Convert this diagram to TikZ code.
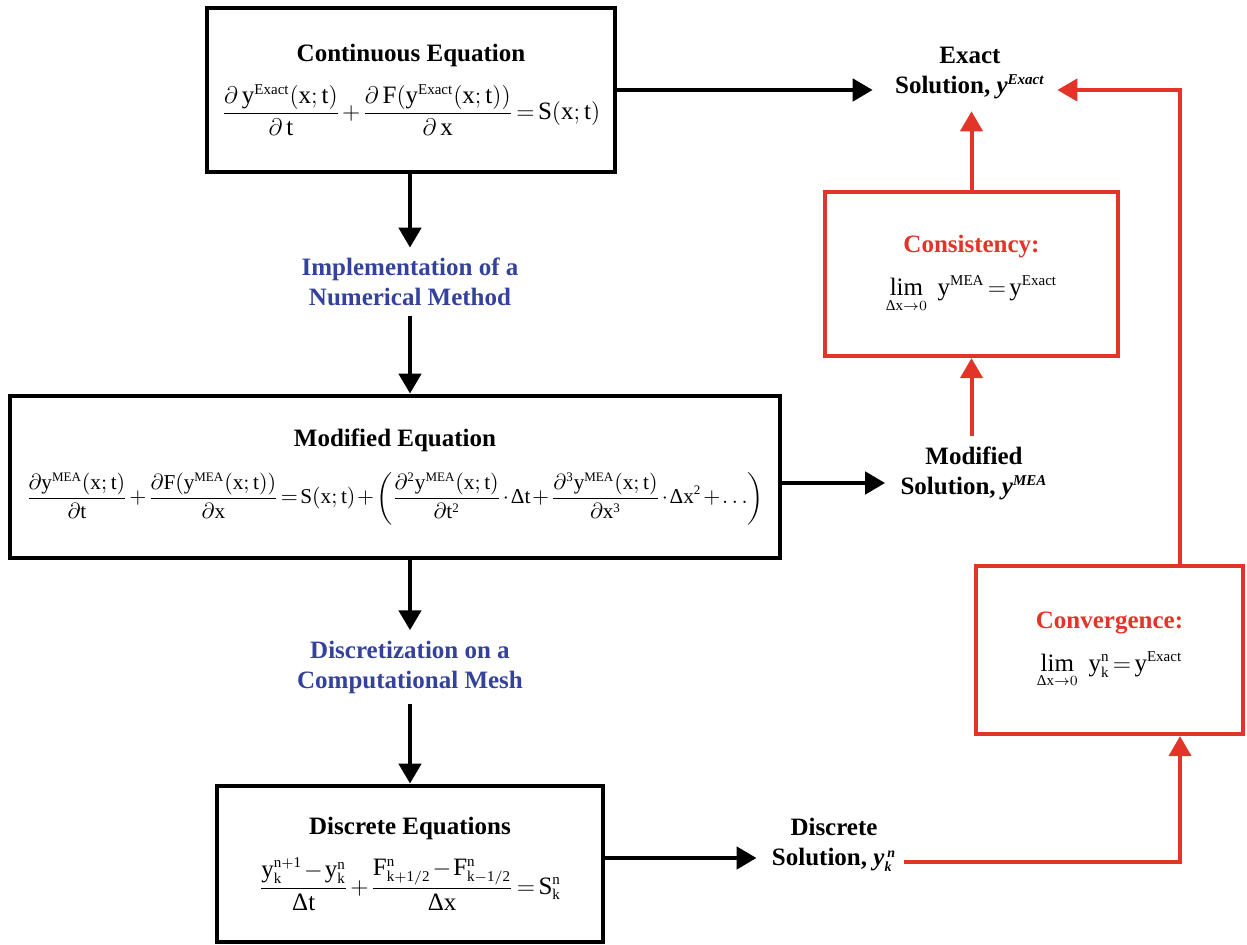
\documentclass[tikz,border=0pt]{standalone}
\usepackage{amsmath}
\usepackage{fontspec}
\setmainfont{Liberation Serif}
\usetikzlibrary{arrows.meta,calc}
\definecolor{myred}{RGB}{226,52,40}
\definecolor{myblue}{RGB}{52,66,156}
\DeclareMathSizes{12.5}{12.5}{7.5}{6}
\DeclareMathSizes{10.6}{10.6}{6.5}{5}
\newcommand{\hdfont}{\fontsize{12.5}{15}\selectfont\bfseries}
\newcommand{\eqfont}{\fontsize{12.5}{15}\selectfont\medmuskip=1.5mu\thickmuskip=2.5mu}
\newcommand{\meqfont}{\fontsize{10.6}{13}\selectfont\medmuskip=1.5mu\thickmuskip=2mu}
\newcommand{\Dl}{\text{Δ}}
\begin{document}
\begin{tikzpicture}[x=0.5pt,y=-0.5pt,
  bbox/.style={draw=black,line width=2.4pt,fill=white,align=center,inner sep=0pt},
  rbox/.style={draw=myred,line width=2.1pt,fill=white,align=center,inner sep=0pt},
  lbl/.style={align=center,font=\hdfont,inner sep=0pt},
  blbl/.style={align=center,font=\hdfont,text=myblue,inner sep=0pt},
  blk/.style={draw=black,line width=2.3pt,-{Triangle[length=10pt,width=11pt]}},
  red/.style={draw=myred,line width=2pt,-{Triangle[length=10pt,width=11pt]}}]
\useasboundingbox (0,0) rectangle (1247,945);

% boxes
\node[bbox,minimum width=204pt,minimum height=82pt] (cont) at (411,90)
 {{\hdfont Continuous Equation}\\[8pt]
  \eqfont$\displaystyle \frac{\mathrm{\partial\, y^{Exact}(x;t)}}{\mathrm{\partial\, t}}+\frac{\mathrm{\partial\, F(y^{Exact}(x;t))}}{\mathrm{\partial\, x}}=\mathrm{S(x;t)}$};

\node[bbox,minimum width=385pt,minimum height=81pt] (mod) at (395,477)
 {{\hdfont Modified Equation}\\[9pt]
  \meqfont$\displaystyle \frac{\mathrm{\partial y^{MEA}(x;t)}}{\mathrm{\partial t}}+\frac{\mathrm{\partial F(y^{MEA}(x;t))}}{\mathrm{\partial x}}=\mathrm{S(x;t)}+\left(\frac{\mathrm{\partial^2 y^{MEA}(x;t)}}{\mathrm{\partial t^2}}\cdot\Dl\mathrm{t}+\frac{\mathrm{\partial^3 y^{MEA}(x;t)}}{\mathrm{\partial x^3}}\cdot\Dl\mathrm{x^2}+\ldots\right)$};

\node[bbox,minimum width=193pt,minimum height=78pt] (disc) at (410,864)
 {{\hdfont Discrete Equations}\\[8pt]
  \eqfont$\displaystyle \frac{\mathrm{y_k^{n+1}-y_k^n}}{\Dl\mathrm{t}}+\frac{\mathrm{F^n_{k+1/2}-F^n_{k-1/2}}}{\Dl\mathrm{x}}=\mathrm{S_k^n}$};

\node[rbox,minimum width=146.5pt,minimum height=82pt] (cons) at (971.5,274)
 {{\hdfont\color{myred} Consistency:}\\[8pt]
  \eqfont$\displaystyle \lim_{\Dl\mathrm{x}\to 0}\;\;\mathrm{y^{MEA}=y^{Exact}}$};

\node[rbox,minimum width=133.5pt,minimum height=84pt] (conv) at (1109.5,650)
 {{\hdfont\color{myred} Convergence:}\\[8pt]
  \eqfont$\displaystyle \lim_{\Dl\mathrm{x}\to 0}\;\;\mathrm{y_k^n=y^{Exact}}$};

% labels
\node[lbl] (exact) at (970,73) {Exact\\Solution, \textit{y}\textsuperscript{\textit{Exact}}};
\node[lbl] (modsol) at (974,473) {Modified\\Solution, \textit{y}\textsuperscript{\textit{MEA}}};
\node[lbl] (discsol) at (834,845) {Discrete\\Solution, \textit{y}$_{\mbox{\scriptsize\bfseries\itshape k}}^{\,\mbox{\scriptsize\bfseries\itshape n}}$};
\node[blbl] (impl) at (410,282) {Implementation of a\\Numerical Method};
\node[blbl] (discr) at (410,667) {Discretization on a\\Computational Mesh};

% black arrows
\draw[blk] (cont.east) -- ($(cont.east -| exact.west)+(-22,0)$);
\draw[blk] (cont.south -| impl.north) -- ($(impl.north)+(0,-10)$);
\draw[blk] ($(impl.south)+(0,10)$) -- (impl.south |- mod.north);
\draw[blk] (mod.south -| discr.north) -- ($(discr.north)+(0,-10)$);
\draw[blk] ($(discr.south)+(0,10)$) -- (discr.south |- disc.north);
\draw[blk] (mod.east |- 0,483) -- ($(modsol.west |- 0,483)+(-15,0)$);
\draw[blk] (disc.east |- 0,858) -- ($(discsol.west |- 0,858)+(-15,0)$);

% red arrows
\draw[red] (cons.north) -- ($(exact.south -| cons.north)+(0,12)$);
\draw[red] ($(modsol.north -| cons.south)+(0,-10)$) -- (cons.south);
\coordinate (rc1) at (1180,862);
\draw[red] ($(discsol.east |- rc1)+(8,0)$) -- (rc1) -- (rc1 |- conv.south);
\coordinate (rc2) at (1180,90);
\draw[red] (rc2 |- conv.north) -- (rc2) -- ($(exact.east |- rc2)+(12,0)$);
\end{tikzpicture}
\end{document}
